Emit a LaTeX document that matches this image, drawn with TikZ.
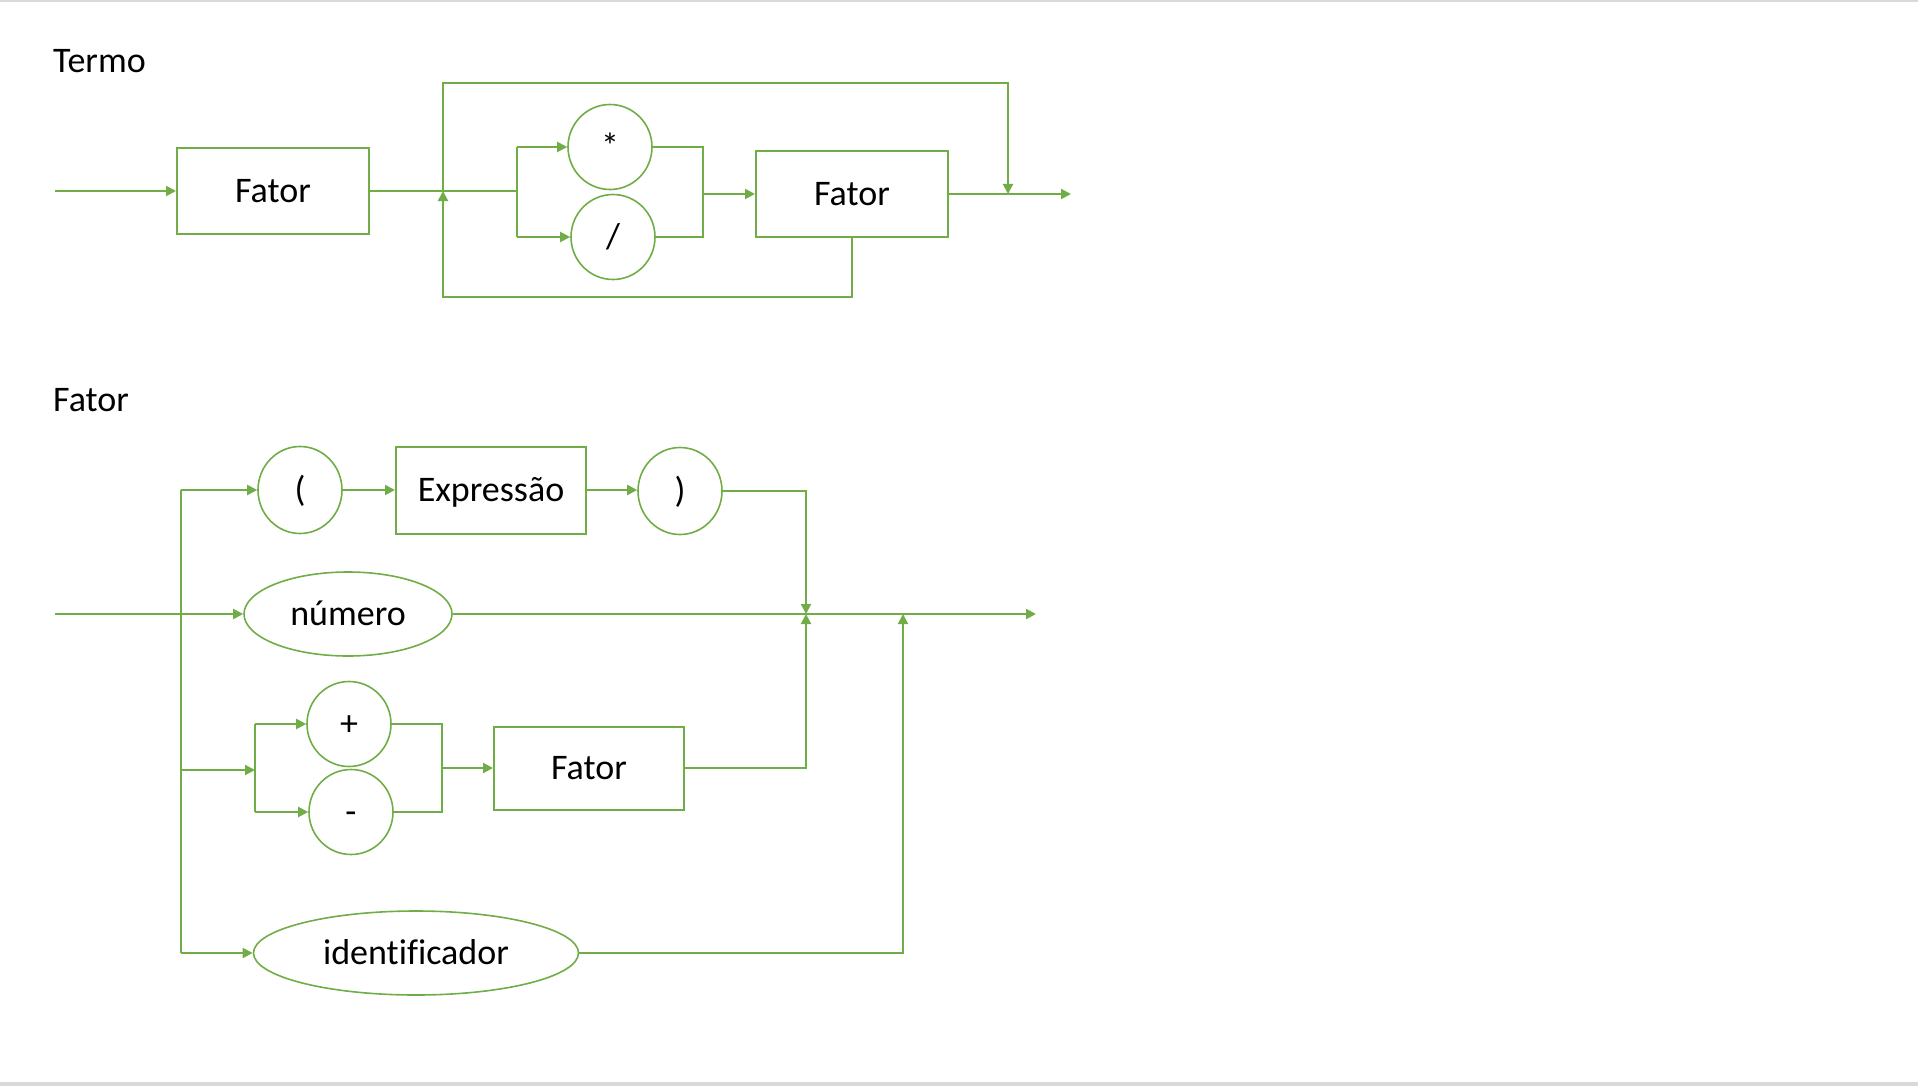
\documentclass[tikz,border=0pt]{standalone}
\usepackage{fontspec}
\setmainfont{Carlito}[Ligatures=NoCommon]
\usetikzlibrary{arrows.meta,shapes.geometric}
\definecolor{gr}{RGB}{112,173,71}
\definecolor{edge}{RGB}{217,217,217}
\tikzset{
  ln/.style={draw=gr, line width=2pt},
  arr/.style={ln, -{Triangle[length=10pt,width=10pt]}},
  txt/.style={font=\fontsize{36}{42}\selectfont, text=black, inner sep=0pt, text height=23pt, text depth=0pt},
  boxnode/.style={txt, draw=gr, line width=2pt, rectangle, minimum width=192pt, minimum height=85pt},
  rnd/.style={txt, draw=gr, line width=1.6pt, ellipse, minimum width=84pt, minimum height=85pt},
  oval/.style={txt, draw=gr, line width=1.6pt, ellipse, minimum height=84pt},
  title/.style={font=\fontsize{36}{42}\selectfont, inner sep=0pt, anchor=base west}
}
\begin{document}
\begin{tikzpicture}[x=1pt,y=-1pt]
\useasboundingbox (0,0) rectangle (1918,1086);
\fill[edge] (0,0) rectangle (1918,2.5);
\fill[edge] (0,1082) rectangle (1918,1086);

% ---------------- Termo ----------------
\node[title] (termo) at (53,73) {Termo};
\node[boxnode] (f1) at (273,191) {Fator};
\node[rnd] (mul) at (610,147) {*};
\node[rnd] (div) at (613,237) {/};
\node[boxnode, minimum height=86pt] (f2) at (852,194) {Fator};

\coordinate (tin) at (55,191);
\coordinate (j1) at (443,191);
\coordinate (s1) at (517,191);
\coordinate (m1) at (703,194);
\coordinate (tb) at (1008,194);
\coordinate (tout) at (1071,194);
\coordinate (topy) at (0,83);
\coordinate (boty) at (0,297);

\draw[arr] (tin) -- (f1.west);
\draw[ln] (f1.east) -- (s1);
\draw[ln] (s1 |- mul.west) -- (s1 |- div.west);
\draw[arr] (s1 |- mul.west) -- (mul.west);
\draw[arr] (s1 |- div.west) -- (div.west);
\draw[ln] (mul.east) -- (mul.east -| m1) -- (div.east -| m1) -- (div.east);
\draw[arr] (m1) -- (f2.west);
\draw[arr] (f2.east) -- (tout);
\draw[arr] (j1) -- (j1 |- topy) -- (tb |- topy) -- (tb);
\draw[arr] (f2.south) -- (f2.south |- boty) -- (j1 |- boty) -- (j1);

% ---------------- Fator ----------------
\node[title] (fator) at (53,411) {Fator};
\node[rnd, minimum height=87pt] (lp) at (300,490) {(};
\node[boxnode, minimum width=190pt, minimum height=87pt] (ex) at (491,490) {Expressão};
\node[rnd, minimum height=87pt] (rp) at (680,491) {)};
\node[oval, minimum width=208pt] (num) at (348,614) {número};
\node[rnd] (plus) at (349,724) {+};
\node[rnd] (minus) at (351,812) {-};
\node[boxnode, minimum width=190pt, minimum height=83pt] (f3) at (589,768) {Fator};
\node[oval, minimum width=325pt] (id) at (416,953) {identificador};

\coordinate (fin) at (55,614);
\coordinate (busT) at (181,490);
\coordinate (busB) at (181,953);
\coordinate (pm) at (255,770);
\coordinate (pm2) at (442,768);
\coordinate (c1) at (806,614);
\coordinate (c2) at (903,614);
\coordinate (fout) at (1036,614);

\draw[arr] (fin) -- (num.west);
\draw[ln] (busT) -- (busB);
\draw[arr] (busT) -- (lp.west);
\draw[arr] (busB) -- (id.west);
\draw[arr] (busT |- pm) -- (pm);
\draw[ln] (pm |- plus.west) -- (pm |- minus.west);
\draw[arr] (pm |- plus.west) -- (plus.west);
\draw[arr] (pm |- minus.west) -- (minus.west);
\draw[ln] (plus.east) -- (plus.east -| pm2) -- (minus.east -| pm2) -- (minus.east);
\draw[arr] (pm2) -- (f3.west);
\draw[arr] (lp.east) -- (ex.west);
\draw[arr] (ex.east) -- (ex.east -| rp.west);
\draw[arr] (rp.east) -- (rp.east -| c1) -- (c1);
\draw[arr] (f3.east) -- (f3.east -| c1) -- (c1);
\draw[arr] (id.east) -- (id.east -| c2) -- (c2);
\draw[arr] (num.east) -- (fout);
\end{tikzpicture}
\end{document}
